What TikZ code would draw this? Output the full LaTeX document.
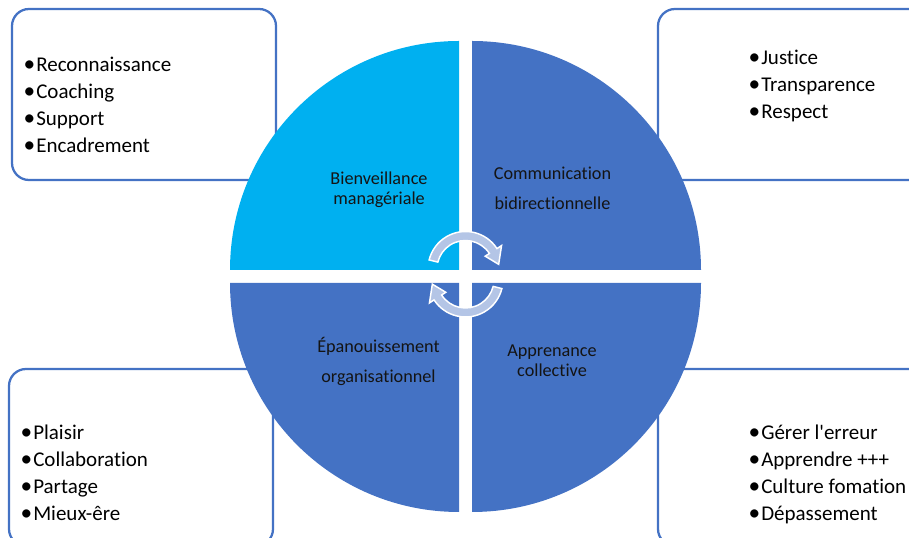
\documentclass[tikz,border=0pt]{standalone}
\usepackage{fontspec}
\setmainfont{Carlito}[Ligatures=NoCommon]

\definecolor{quadblue}{HTML}{4472C4}
\definecolor{quadcyan}{HTML}{00B0F0}
\definecolor{cyclefill}{HTML}{B4C5E6}
\definecolor{quadtext}{HTML}{141414}

\newcommand{\bul}{\makebox[7.5pt][l]{\hspace{-2pt}{\fontsize{17.5}{20.25}\selectfont•}}}
\newcommand{\itemlist}[1]{\begin{tabular}[t]{@{}l@{}}#1\end{tabular}}
\newcommand{\quadlabel}[1]{\begin{tabular}[t]{@{}c@{}}#1\end{tabular}}

\tikzset{
	listbox/.style={draw=quadblue, line width=1.7pt, rounded corners=12.75pt, fill=white},
	listtext/.style={anchor=base west, inner sep=0pt, font=\fontsize{15.75}{20.25}\selectfont},
	quadtitle/.style={anchor=base, inner sep=0pt, text=quadtext, font=\fontsize{13.65}{15}\selectfont},
	cyclearrow/.style={fill=cyclefill, draw=white, line width=1.1pt, line join=miter}
}

\begin{document}
\begin{tikzpicture}[x=0.75pt, y=0.75pt]
		\useasboundingbox (0,0) rectangle (909,538);
		\clip (0,0) rectangle (909,538);

		%––––– frames behind the circle –––––
		\draw[listbox] (12,358) rectangle (276,529);
		\draw[listbox] (658,358) rectangle (930,529);
		\draw[listbox] (9,-8) rectangle (273,169);
		\draw[listbox] (658,-8) rectangle (930,169);

		%––––– quadrants –––––
		\fill[quadcyan] (459,268) -- ++(-229,0) arc[start angle=180, end angle=90, radius=229] -- cycle;
		\fill[quadblue] (472,268) -- ++(0,229) arc[start angle=90, end angle=0, radius=229] -- cycle;
		\fill[quadblue] (459,255) -- ++(-229,0) arc[start angle=180, end angle=270, radius=229] -- cycle;
		\fill[quadblue] (472,255) -- ++(229,0) arc[start angle=0, end angle=-90, radius=229] -- cycle;

		\node[quadtitle] (bienveillance) at (379,353)
			{\quadlabel{Bienveillance\\managériale}};
		\node[quadtitle] (communication) at (552.5,358)
			{\quadlabel{Communication\\[7pt]bidirectionnelle}};
		\node[quadtitle] (epanouissement) at (378.5,185)
			{\quadlabel{Épanouissement\\[7pt]organisationnel}};
		\node[quadtitle] (apprenance) at (552,181)
			{\quadlabel{Apprenance\\collective}};

		%––––– cycle arrows in the middle –––––
		\foreach \cy/\rot in {269/0, 258.5/180}
		{
			\begin{scope}[shift={(465.5,\cy)}, rotate=\rot]
				\path[cyclearrow] (166:37.5) arc[start angle=166, end angle=33, radius=37.5]
					-- (33:43) -- (8:33.5) -- (33:23.5) -- (33:28.5)
					arc[start angle=33, end angle=166, radius=28.5] -- cycle;
			\end{scope}
		}

		%––––– bullet lists –––––
		\node[listtext] (soutien) at (26,466)
			{\itemlist{\bul Reconnaissance\\\bul Coaching\\\bul Support\\\bul Encadrement}};
		\node[listtext] (equite) at (751,473)
			{\itemlist{\bul Justice\\\bul Transparence\\\bul Respect}};
		\node[listtext] (plaisir) at (23,98)
			{\itemlist{\bul Plaisir\\\bul Collaboration\\\bul Partage\\\bul Mieux-êre}};
		\node[listtext] (erreur) at (751,98)
			{\itemlist{\bul Gérer l\textquotesingle erreur\\\bul Apprendre +++\\\bul Culture fomation\\\bul Dépassement}};
	\end{tikzpicture}
\end{document}
